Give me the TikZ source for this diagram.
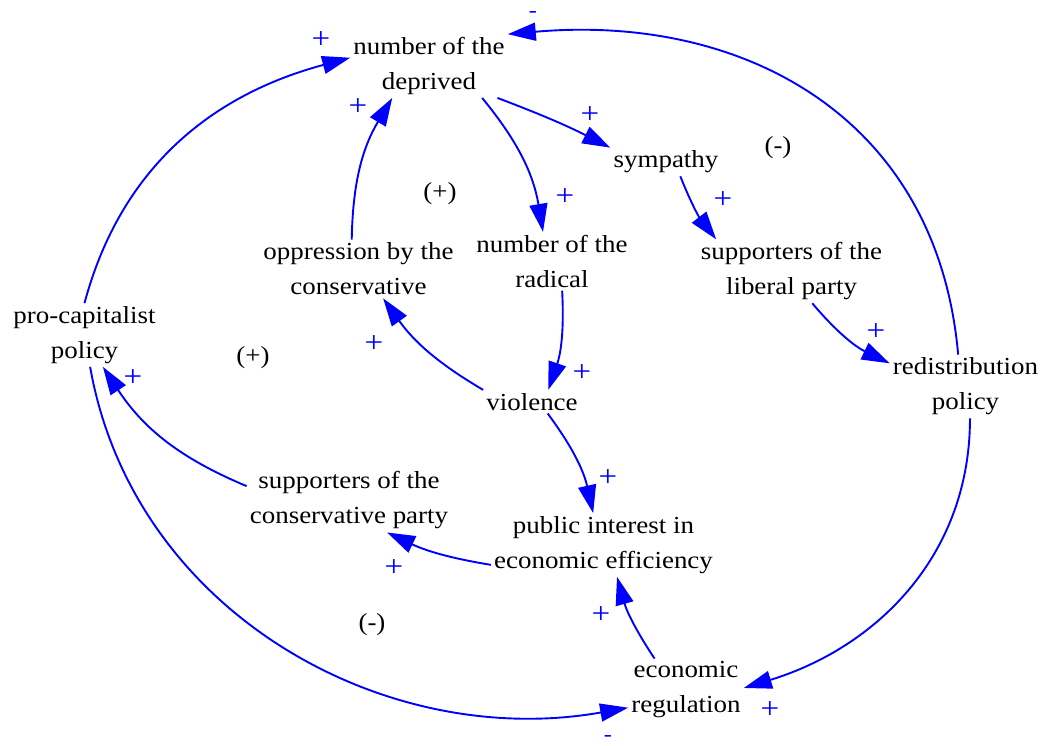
\documentclass[tikz,border=0pt]{standalone}
\usepackage{fontspec}
\setmainfont{Liberation Serif}[FakeStretch=1.1]
\usetikzlibrary{arrows.meta}

\begin{document}
\begin{tikzpicture}[
    x=1pt, y=1pt,
    every node/.style={font=\fontsize{24.5}{35}\selectfont},
    var/.style={align=center, inner sep=3pt},
    link/.style={blue, line width=1.9pt, -{Triangle[length=28pt,width=18pt]}},
    pol/.style={blue, inner sep=0pt, font=\fontsize{30}{30}\selectfont},
    negpol/.style={pol, font=\fontsize{22}{22}\selectfont},
    loopsign/.style={inner sep=0pt},
  ]
    \useasboundingbox (0,0) rectangle (1046,-746);
    %% Variables
    \node[var] (deprived)   at (429,-66)    {number of the\\deprived};
    \node[var] (sympathy)   at (666,-162)   {sympathy};
    \node[var] (radical)    at (552,-261.3) {number of the\\radical};
    \node[var] (oppression) at (358.5,-269) {oppression by the\\conservative};
    \node[var] (liberal)    at (791.5,-271.3) {supporters of the\\liberal party};
    \node[var] (procap)     at (84.5,-335)  {pro-capitalist\\policy};
    \node[var] (redist)     at (965.5,-386.5) {redistribution\\policy};
    \node[var] (violence)   at (532,-401.7) {violence};
    \node[var] (consparty)  at (349,-500.5) {supporters of the\\conservative party};
    \node[var] (publicint)  at (603.5,-545) {public interest in\\economic efficiency};
    \node[var] (regulation) at (686,-690)   {economic\\regulation};
    %% Causal links
    \draw[link] (procap.north) to[out=75, in=195] (deprived.174);
    \draw[link] (redist.103) to[out=95, in=5, looseness=1.1] (deprived.22);
    \draw[link] (deprived.-25) to[bend left=3] (sympathy.north west);
    \draw[link] (deprived.-31) to[bend left=15] (radical.107);
    \draw[link] (oppression.103) to[bend left=15] (deprived.221);
    \draw[link] (sympathy.-45) to[bend right=8] (liberal.157);
    \draw[link] (liberal.-57) to[bend right=12] (redist.163);
    \draw[link] (radical.-71) to[bend left=11] (violence.36);
    \draw[link] (violence.north west) to[bend left=12] (oppression.-50);
    \draw[link] (violence.-37) to[bend left=12] (publicint.108);
    \draw[link] (consparty.172) to[bend left=17] (procap.-60);
    \draw[link] (publicint.190) to[bend left=8] (consparty.-40);
    \draw[link] (regulation.135) to[bend left=9] (publicint.-67);
    \draw[link] (redist.-82) to[out=-90, in=17, looseness=1.0] (regulation.2);
    \draw[link] (procap.-80) to[out=-80, in=190, looseness=1.0] (regulation.197);
    %% Link polarities
    \foreach \x/\y [count=\i] in {321/-40, 590/-115, 565/-197, 358/-107,
        723/-200, 876/-332, 582/-373, 374/-344, 608/-478, 133/-378,
        394/-568, 601/-615, 770/-710}
      \node[pol] (p\i) at (\x,\y) {+};
    \node[negpol] (n1) at (533,-15) {-};
    \node[negpol] (n2) at (608,-738) {-};
    %% Loop polarities
    \foreach \x/\y/\s [count=\i] in {440/-194/(+), 253/-358/(+),
        778/-148/(-), 372/-625/(-)}
      \node[loopsign] (loop\i) at (\x,\y) {\s};
\end{tikzpicture}
\end{document}
